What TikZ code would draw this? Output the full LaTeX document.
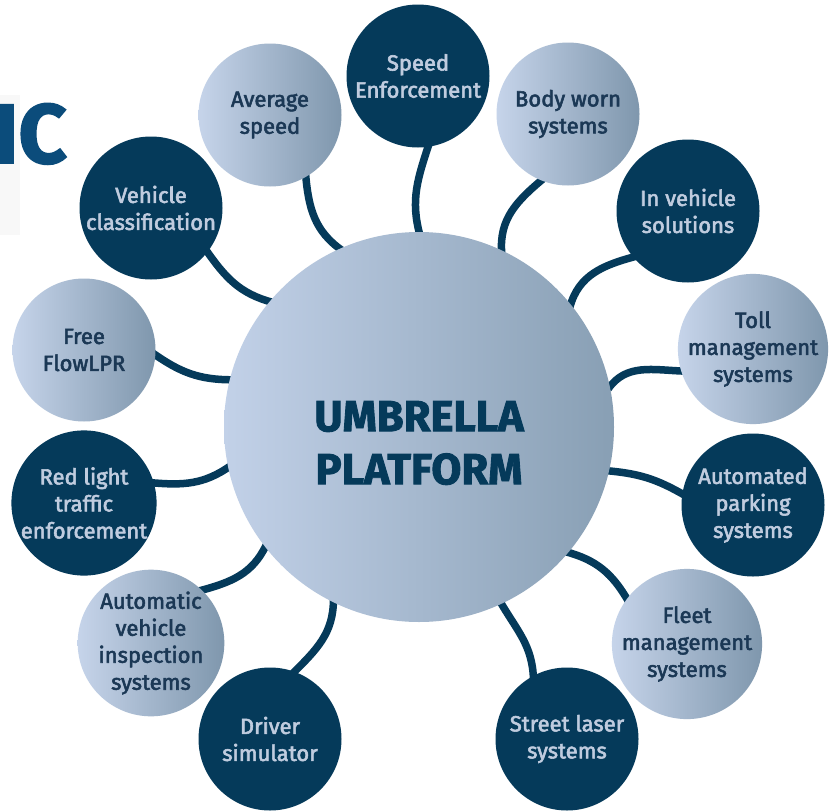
\documentclass[tikz,border=0pt]{standalone}
\usepackage{fontspec}
\setmainfont{Fira Sans}[FakeBold=2.5]
\newfontfamily\heavyfont{Fira Sans}[BoldFeatures={FakeBold=2}]
\usetikzlibrary{backgrounds}
\definecolor{navy}{HTML}{053A5A}
\definecolor{lightL}{HTML}{C6D4EA}
\definecolor{lightR}{HTML}{7F97AD}
\definecolor{ctrL}{HTML}{C2D1E8}
\definecolor{ctrR}{HTML}{889FB4}
\definecolor{txtlight}{HTML}{C0CCDF}
\definecolor{txtdark}{HTML}{1B3855}
\definecolor{logoblue}{HTML}{0B4C7B}
\definecolor{faint}{HTML}{F8F8F8}
\tikzset{
  sat/.style={circle, minimum size=143pt, inner sep=0pt, align=center,
    font=\fontsize{22}{27}\selectfont},
  darksat/.style={sat, fill=navy, text=txtlight},
  lightsat/.style={sat, left color=lightL, right color=lightR, text=txtdark},
  link/.style={draw=navy, line width=7.5pt, shorten <=-3pt, shorten >=-3pt},
}
\begin{document}
\begin{tikzpicture}[x=1pt,y=1pt]
\useasboundingbox (0,0) rectangle (830,-811);
\clip (0,0) rectangle (830,-811);
\begin{scope}[on background layer]
  \fill[white] (0,0) rectangle (830,-811);
  \fill[faint] (0,-95) rectangle (20,-235);
\end{scope}
\node[anchor=base east, inner sep=0pt, text=logoblue,
  font=\heavyfont\bfseries\fontsize{84}{84}\selectfont] (logo) at (67,-163) {IC};

\node[circle, minimum size=390pt, inner sep=0pt, left color=ctrL, right color=ctrR] (C) at (419,-427) {};
\node[text=navy, align=center, inner sep=0pt,
  font=\heavyfont\bfseries\fontsize{43.5}{53}\selectfont] (ctitle) at (419,-443) {UMBRELLA\\PLATFORM};

\node[darksat]  (spd)   at (418,-76)  {Speed\\Enforcement};
\node[lightsat] (avg)   at (270,-115) {Average\\speed};
\node[lightsat] (body)  at (568,-114) {Body worn\\systems};
\node[darksat]  (vc)    at (151,-208) {Vehicle\\classification};
\node[darksat]  (inv)   at (688,-211) {In vehicle\\solutions};
\node[lightsat] (ff)    at (84,-350)  {Free\\FlowLPR};
\node[lightsat] (toll)  at (753,-349) {Toll\\management\\systems};
\node[darksat]  (red)   at (84,-503)  {Red light\\traffic\\enforcement};
\node[darksat]  (park)  at (753,-505) {Automated\\parking\\systems};
\node[lightsat] (avi)   at (151,-643) {Automatic\\vehicle\\inspection\\systems};
\node[lightsat] (fleet) at (687,-644) {Fleet\\management\\systems};
\node[darksat]  (drv)   at (270,-739) {Driver\\simulator};
\node[darksat]  (st)    at (567,-739) {Street laser\\systems};

\begin{scope}[on background layer]
  \draw[link] (spd.278)  to[out=252,in=105] (C.90);
  \draw[link] (avg.300)  to[out=275,in=145] (C.114);
  \draw[link] (body.248) to[out=220,in=95]  (C.65);
  \draw[link] (vc.322)   to[out=305,in=165] (C.140);
  \draw[link] (inv.220)  to[out=195,in=75]  (C.39);
  \draw[link] (ff.356)   to[out=325,in=180] (C.166);
  \draw[link] (toll.197) to[out=178,in=55]  (C.12);
  \draw[link] (red.16)   to[out=355,in=215] (C.192);
  \draw[link] (park.171) to[out=150,in=355] (C.347);
  \draw[link] (avi.46)   to[out=15,in=245]  (C.218);
  \draw[link] (fleet.143) to[out=120,in=345] (C.320);
  \draw[link] (drv.70)   to[out=45,in=270]  (C.244);
  \draw[link] (st.118)   to[out=92,in=300]  (C.295);
\end{scope}
\end{tikzpicture}
\end{document}
